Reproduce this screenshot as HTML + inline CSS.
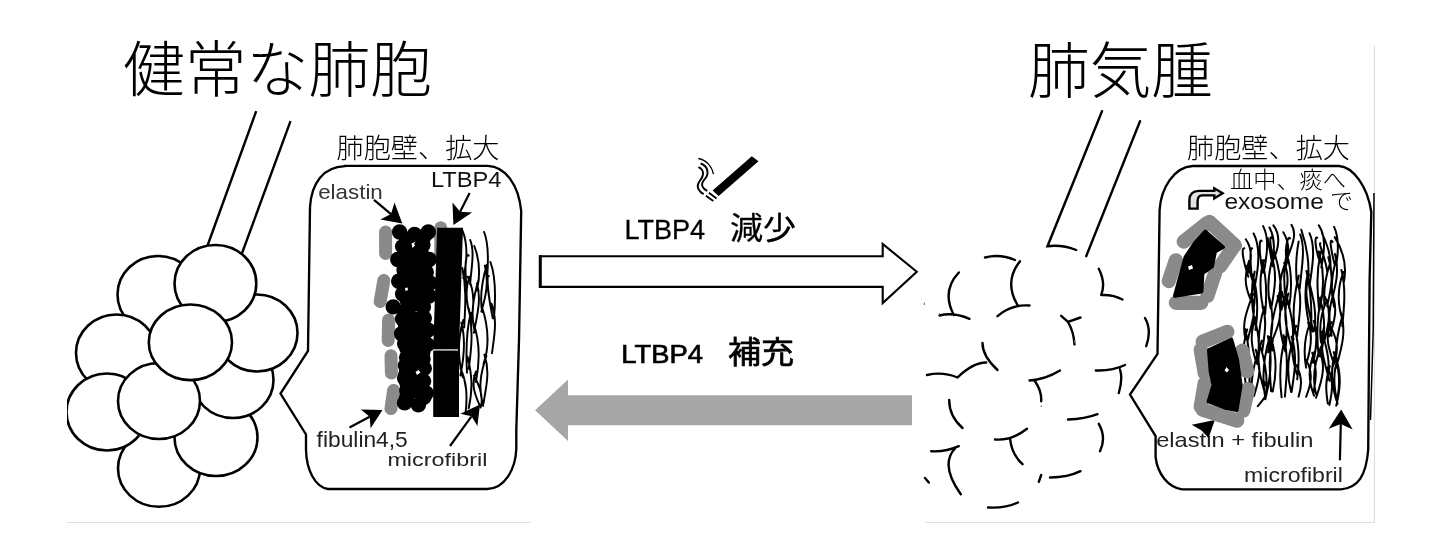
<!DOCTYPE html>
<html lang="ja"><head><meta charset="utf-8"><title>LTBP4</title>
<style>
html,body{margin:0;padding:0;background:#fff;}
body{width:1432px;height:557px;overflow:hidden;font-family:"Liberation Sans",sans-serif;}
svg{display:block;will-change:transform;font-family:"Liberation Sans",sans-serif;}
</style></head><body>
<svg width="1432" height="557" viewBox="0 0 1432 557">
<defs><clipPath id="clipL"><rect x="67" y="0" width="470" height="557"/></clipPath></defs>
<rect width="1432" height="557" fill="#fff"/>
<path d="M67,522.4H530.8M925,522.4H1375M1374.4,45V522.4" stroke="#dcdcdc" stroke-width="1" fill="none"/>
<text x="123" y="92" font-size="61.5" textLength="309" lengthAdjust="spacingAndGlyphs" fill="#000" font-weight="300" style="font-family:'Liberation Sans','Noto Sans CJK JP',sans-serif;">健常な肺胞</text>
<text x="1028" y="93" font-size="61.5" textLength="185" lengthAdjust="spacingAndGlyphs" fill="#000" font-weight="300" style="font-family:'Liberation Sans','Noto Sans CJK JP',sans-serif;">肺気腫</text>
<text x="336.5" y="158" font-size="27.3" textLength="163" lengthAdjust="spacingAndGlyphs" fill="#000" font-weight="300" style="font-family:'Liberation Sans','Noto Sans CJK JP',sans-serif;">肺胞壁、拡大</text>
<text x="1187" y="158" font-size="27.3" textLength="163" lengthAdjust="spacingAndGlyphs" fill="#000" font-weight="300" style="font-family:'Liberation Sans','Noto Sans CJK JP',sans-serif;">肺胞壁、拡大</text>
<g fill="none" stroke="#000" stroke-width="2.4" stroke-linecap="butt">
<path d="M256.2,111.2L207,247M290.5,121.2L241,256"/>
</g>
<g fill="#fff" stroke="#000" stroke-width="2.6" clip-path="url(#clipL)">
<ellipse cx="159" cy="468.5" rx="41" ry="38.3"/>
<ellipse cx="216" cy="437.5" rx="41.5" ry="38.5"/>
<ellipse cx="233" cy="380" rx="40.5" ry="38"/>
<ellipse cx="158" cy="294.5" rx="40.5" ry="38.5"/>
<ellipse cx="257" cy="333" rx="40.5" ry="38.5"/>
<ellipse cx="116.5" cy="353" rx="40.5" ry="38.5"/>
<ellipse cx="107" cy="412" rx="40.5" ry="38.5"/>
<ellipse cx="159" cy="401" rx="41" ry="38"/>
<ellipse cx="215.4" cy="283.5" rx="40.9" ry="38.5"/>
<ellipse cx="190.4" cy="342.3" rx="41.6" ry="37.8"/>
</g>
<path fill="none" stroke="#000" stroke-width="2.35" stroke-linejoin="miter" d="M345,165.9H488C505,166.8 518.5,184 521.2,211L519,340L516.3,430V449C515.5,469 505,488.5 487,489H328C315,487 306.5,470 306,450V434.5L280.5,393.5L308,351L310,207C311.5,183 323,167 345,166.2Z"/>
<g stroke="#8a8a8a" stroke-width="13" stroke-linecap="round" fill="none">
<path d="M440.8,227.8V260"/>
<path d="M385.6,232V253.5M383.8,280.5L380.2,301.5M388.6,320L388.2,340.5M391,355.8L391.4,373M393.6,390.4L391,408.6"/>
</g>
<path fill="#000" d="M437.2,227.8H463L459,349.3H433.2ZM433.2,350.6H459V417H433.2Z"/>
<path fill="none" stroke="#999" stroke-width="0.8" d="M433,349.9H447M451,349.9H457"/>
<g fill="#000">
<circle cx="399.6" cy="232.0" r="7.7"/>
<circle cx="414.5" cy="234.5" r="7.7"/>
<circle cx="428.3" cy="232.0" r="7.7"/>
<circle cx="402.6" cy="246.6" r="7.7"/>
<circle cx="421.4" cy="246.6" r="7.7"/>
<circle cx="397.7" cy="259.5" r="7.7"/>
<circle cx="413.5" cy="259.5" r="7.7"/>
<circle cx="429.3" cy="259.5" r="7.7"/>
<circle cx="411.5" cy="272.3" r="7.7"/>
<circle cx="426.3" cy="272.3" r="7.7"/>
<circle cx="398.7" cy="281.2" r="7.7"/>
<circle cx="419.4" cy="284.0" r="7.7"/>
<circle cx="402.6" cy="294.0" r="7.7"/>
<circle cx="416.4" cy="294.0" r="7.7"/>
<circle cx="429.0" cy="296.0" r="7.7"/>
<circle cx="393.2" cy="306.9" r="7.7"/>
<circle cx="409.5" cy="306.9" r="7.7"/>
<circle cx="423.4" cy="306.9" r="7.7"/>
<circle cx="402.6" cy="319.0" r="7.7"/>
<circle cx="419.4" cy="319.0" r="7.7"/>
<circle cx="401.6" cy="333.8" r="7.7"/>
<circle cx="416.4" cy="334.8" r="7.7"/>
<circle cx="427.3" cy="344.6" r="7.7"/>
<circle cx="412.5" cy="346.6" r="7.7"/>
<circle cx="406.6" cy="357.5" r="7.7"/>
<circle cx="420.4" cy="359.5" r="7.7"/>
<circle cx="424.3" cy="368.4" r="7.7"/>
<circle cx="408.5" cy="367.4" r="7.7"/>
<circle cx="404.6" cy="378.2" r="7.7"/>
<circle cx="420.4" cy="380.2" r="7.7"/>
<circle cx="409.5" cy="391.1" r="7.7"/>
<circle cx="426.3" cy="393.1" r="7.7"/>
<circle cx="404.6" cy="402.9" r="7.7"/>
<circle cx="418.4" cy="404.9" r="7.7"/>
<circle cx="428.0" cy="330.0" r="7.7"/>
<circle cx="404.0" cy="270.0" r="7.7"/>
<circle cx="430.0" cy="283.0" r="7.7"/>
<circle cx="406.7" cy="239.2" r="7.7"/>
<circle cx="424.3" cy="236.1" r="7.7"/>
<circle cx="407.3" cy="246.6" r="7.7"/>
<circle cx="422.9" cy="245.0" r="7.7"/>
<circle cx="406.2" cy="252.1" r="7.7"/>
<circle cx="413.8" cy="255.7" r="7.7"/>
<circle cx="422.0" cy="255.2" r="7.7"/>
<circle cx="406.4" cy="260.5" r="7.7"/>
<circle cx="415.6" cy="260.8" r="7.7"/>
<circle cx="424.4" cy="263.5" r="7.7"/>
<circle cx="407.4" cy="270.2" r="7.7"/>
<circle cx="413.6" cy="271.8" r="7.7"/>
<circle cx="424.4" cy="271.6" r="7.7"/>
<circle cx="405.6" cy="276.7" r="7.7"/>
<circle cx="413.2" cy="277.2" r="7.7"/>
<circle cx="421.5" cy="278.7" r="7.7"/>
<circle cx="405.4" cy="287.3" r="7.7"/>
<circle cx="413.9" cy="285.9" r="7.7"/>
<circle cx="421.7" cy="287.9" r="7.7"/>
<circle cx="406.7" cy="295.4" r="7.7"/>
<circle cx="415.4" cy="293.5" r="7.7"/>
<circle cx="421.5" cy="292.2" r="7.7"/>
<circle cx="407.4" cy="300.8" r="7.7"/>
<circle cx="415.8" cy="303.8" r="7.7"/>
<circle cx="422.6" cy="302.1" r="7.7"/>
<circle cx="404.8" cy="311.0" r="7.7"/>
<circle cx="407.3" cy="316.4" r="7.7"/>
<circle cx="414.8" cy="319.7" r="7.7"/>
<circle cx="424.3" cy="318.2" r="7.7"/>
<circle cx="405.5" cy="324.7" r="7.7"/>
<circle cx="413.4" cy="326.8" r="7.7"/>
<circle cx="404.6" cy="335.9" r="7.7"/>
<circle cx="414.2" cy="332.9" r="7.7"/>
<circle cx="424.0" cy="333.8" r="7.7"/>
<circle cx="404.7" cy="343.7" r="7.7"/>
<circle cx="414.5" cy="343.4" r="7.7"/>
<circle cx="423.7" cy="343.8" r="7.7"/>
<circle cx="406.9" cy="348.4" r="7.7"/>
<circle cx="413.4" cy="351.4" r="7.7"/>
<circle cx="422.9" cy="352.0" r="7.7"/>
<circle cx="423.0" cy="358.9" r="7.7"/>
<circle cx="405.4" cy="365.6" r="7.7"/>
<circle cx="414.1" cy="368.0" r="7.7"/>
<circle cx="406.0" cy="373.4" r="7.7"/>
<circle cx="413.8" cy="375.1" r="7.7"/>
<circle cx="406.9" cy="383.1" r="7.7"/>
<circle cx="415.0" cy="383.0" r="7.7"/>
<circle cx="423.6" cy="381.1" r="7.7"/>
<circle cx="406.8" cy="390.8" r="7.7"/>
<circle cx="415.8" cy="390.6" r="7.7"/>
<circle cx="421.5" cy="390.2" r="7.7"/>
<circle cx="406.5" cy="397.9" r="7.7"/>
<circle cx="423.9" cy="397.4" r="7.7"/>
</g>
<path fill="#fff" d="M411.5,243.5l2,-1l1.5,3l-2.5,2.5zM405,288l2.5,-0.5l0.5,2.5l-2.5,1zM415.5,372l3,-2l2,2.5l-3.5,2.5z"/>
<text x="318.2" y="199.4" font-size="20.4" textLength="64.6" lengthAdjust="spacingAndGlyphs" fill="#333" font-weight="normal">elastin</text>
<text x="430.9" y="187.4" font-size="22" textLength="70.6" lengthAdjust="spacingAndGlyphs" fill="#111" font-weight="normal">LTBP4</text>
<text x="316.6" y="447" font-size="22.2" textLength="91.2" lengthAdjust="spacingAndGlyphs" fill="#222" font-weight="normal">fibulin4,5</text>
<text x="387.4" y="466.2" font-size="19.2" textLength="100" lengthAdjust="spacingAndGlyphs" fill="#222" font-weight="normal">microfibril</text>
<path fill="none" stroke="#000" stroke-width="1.95" stroke-linecap="round" d="M462.2,230.0C468.0,243.5 467.1,261.4 463.3,278.2M462.3,268.0C467.0,289.9 465.0,310.0 464.2,327.4M461.3,322.7C465.9,339.2 464.0,358.0 460.4,375.5M463.3,319.9C457.5,339.2 457.6,358.0 462.8,377.2M460.4,368.2C466.6,382.0 467.7,395.0 465.5,413.8M470.2,240.0C474.9,251.8 471.4,267.5 470.1,284.1M468.7,255.6C465.8,251.8 464.3,267.5 466.7,287.2M467.7,276.7C474.7,290.3 474.8,305.0 470.9,322.5M469.7,276.6C464.2,290.3 466.3,305.0 471.7,320.4M468.8,308.5C473.6,330.9 471.2,350.7 468.7,368.8M470.8,312.7C466.2,330.9 465.8,350.7 467.0,372.6M467.5,356.7C472.5,376.1 472.6,390.1 468.7,408.3M474.3,246.0C479.0,258.3 480.6,274.7 476.9,290.6M476.9,283.4C481.6,298.9 477.2,314.8 473.9,332.8M478.9,278.4C472.9,298.9 470.5,314.8 474.7,332.0M473.4,322.9C480.2,342.2 479.7,363.0 475.9,381.9M473.9,375.8C479.9,386.1 483.3,396.2 481.1,406.0M475.9,371.6C470.4,386.1 475.7,396.2 480.6,407.5M484.1,232.0C488.8,243.6 488.5,259.1 487.2,276.7M484.8,265.6C489.4,282.3 485.3,297.7 481.4,311.6M486.8,264.7C481.6,282.3 479.6,297.7 482.2,312.1M481.7,306.2C488.0,324.9 489.7,345.9 483.5,363.9M484.4,354.6C490.5,372.8 485.7,387.6 483.6,403.0M486.4,355.9C480.7,372.8 477.9,387.6 483.2,405.9M490.4,262.0C495.8,276.5 495.9,295.7 494.0,318.5M488.9,275.9C486.2,276.5 488.3,295.7 492.8,318.2M491.5,303.7C497.5,320.4 494.5,334.1 492.0,353.2"/>
<path fill="none" stroke="#000" stroke-width="2.2" d="M374.0,199.8L391.0,214.1"/>
<path fill="#000" d="M402.3,223.6L380.3,219.5L391.0,214.1L394.5,202.6Z"/>
<path fill="none" stroke="#000" stroke-width="2.2" d="M469.6,193.1L460.1,211.7"/>
<path fill="#000" d="M453.4,224.9L452.5,202.5L460.1,211.7L472.1,212.5Z"/>
<path fill="none" stroke="#000" stroke-width="2.2" d="M349.5,427.5L369.7,416.8"/>
<path fill="#000" d="M382.5,410.0L370.6,428.2L369.7,416.8L360.8,409.6Z"/>
<path fill="none" stroke="#000" stroke-width="2.2" d="M450.0,446.0L471.5,416.3"/>
<path fill="#000" d="M480.0,404.5L477.4,426.0L471.5,416.3L460.4,413.7Z"/>
<path fill="#fff" stroke="#000" stroke-width="2.1" d="M540,256.2H882.7V244L916.8,271.7L882.7,303V286.9H540Z"/>
<path stroke="#000" stroke-width="3" d="M540.3,255.2V288"/>
<path fill="#a6a6a6" d="M535.1,410.2L568,379.4V395.2H912V425.3H568V441.1Z"/>
<path fill="#000" d="M712.6,190.4L751.8,156.3L758.5,161.2L718.7,196Z"/>
<path fill="none" stroke="#000" stroke-width="1.9" d="M708.9,192.8L716.5,198.4M705.9,195.7L713.3,201.1"/>
<path fill="none" stroke="#000" stroke-width="1.3" d="M698.4,158.5C706,160 712,166 713.4,174.2"/>
<path fill="none" stroke="#000" stroke-width="1.9" d="M700.6,163.5C708,166 710,174 704,180C700,185 703,189 707.3,190.8M698.4,167.1C705,170 704,176 699,182C696,187 699,192 703.7,194.1"/>
<g fill="none" stroke="#000" stroke-width="2.4" stroke-linecap="round">
<path d="M1102,111.2L1047.5,246.2Q1062.5,244.5 1076.2,250M1140,121.2L1086.2,256.2"/>
<path d="M985,257.5Q1000.0,253.6 1015,260M1020,261.2Q1003.7,281.9 1017.5,305M997.5,316.2Q1011.5,304.1 1029.5,305.5M958.8,272.5Q941.3,291.2 953.8,315M939.5,315.5Q953.1,311.9 969.5,318.8M1098.8,268.8Q1106.0,283.1 1101.2,295M1101.2,295Q1113.2,294.4 1122.5,299.5M1068,322Q1073.8,331.8 1074.5,344.5M1145,318Q1152.0,330.3 1146.2,346.2M982.5,343Q982.4,355.9 997.5,370M986.2,362.5Q973.1,362.4 957.5,377.5M927,375Q942.8,371.4 957.5,377.5M1029.5,380.5Q1045.2,379.5 1060,370.5M1035,381.2Q1041.9,391.2 1041.2,401.2M1095.8,370.5Q1112.0,371.2 1125,365M1120,369.5Q1123.0,378.8 1118.8,393M949.2,400Q949.1,416.0 962.5,428M1068,419.5Q1084.8,419.1 1097.5,414.2M1098.8,423.8Q1106.6,437.5 1100,451.2M995,439.5Q1011.4,440.9 1027,428.8M1010,438Q1011.3,453.9 1022.5,464.2M931.2,451.2Q945.0,452.3 958.8,446.2M955,448.5Q939.7,464.6 960.8,494.2M1050,477.5Q1067.2,477.6 1080.5,471.2M988,507.5Q1004.6,508.6 1018,502.5M1061.2,315.8L1068,322L1080.5,317.5M1041.2,475L1038.8,481.8M925,478L928.8,482.5"/>
<path stroke="#555" stroke-width="1" stroke-linecap="butt" d="M1041.3,405.3v1.6M924.3,302.6v2.4M939.6,313v2.2M1074.5,340v3.5"/>
</g>
<path fill="none" stroke="#000" stroke-width="2.35" d="M1192.7,166H1339C1353,167 1367.5,186 1371.3,212L1369.6,280L1368.2,450C1366,476 1358,488 1341,489.3H1182C1168,487 1157.5,474 1155.6,457V436.2L1130,394.5L1157.5,353.8L1159.6,210C1161,188 1174,167 1192.7,166Z"/>
<path fill="none" stroke="#000" stroke-width="1.5" d="M1374,193L1373.2,330L1370.5,420"/>
<text x="1230" y="187.6" font-size="23.2" textLength="116" lengthAdjust="spacingAndGlyphs" fill="#000" font-weight="300" style="font-family:'Liberation Sans','Noto Sans CJK JP',sans-serif;">血中、痰へ</text>
<text x="1330" y="208.6" font-size="23" fill="#000" font-weight="300" style="font-family:'Liberation Sans','Noto Sans CJK JP',sans-serif;">で</text>
<text x="1224.4" y="208.6" font-size="22" textLength="99.4" lengthAdjust="spacingAndGlyphs" fill="#111" font-weight="normal">exosome</text>
<text x="1156.2" y="447" font-size="20.6" textLength="157.2" lengthAdjust="spacingAndGlyphs" fill="#222" font-weight="normal">elastin + fibulin</text>
<text x="1244.1" y="481.7" font-size="20" textLength="98.8" lengthAdjust="spacingAndGlyphs" fill="#222" font-weight="normal">microfibril</text>
<path fill="#e2e2e2" stroke="#000" stroke-width="2.4" stroke-linejoin="miter" d="M1189.4,208.6V200C1189.6,194 1193,191 1199,190.9H1214.3V188.3L1222.6,193.2L1214.3,198.4V195.4H1202C1199,195.6 1197.7,197.5 1197.6,201V208.6Z"/>
<path fill="none" stroke="#000" stroke-width="2.0" stroke-linecap="round" d="M1245.8,239.2C1252.1,248.2 1252.3,260.3 1247.5,273.7M1244.3,248.2C1240.9,248.2 1243.1,260.3 1248.3,276.8M1247.1,265.7C1253.7,279.5 1256.6,292.9 1253.6,308.9M1249.1,260.7C1242.1,279.5 1246.9,292.9 1253.8,306.2M1250.9,294.2C1257.9,311.8 1251.1,323.5 1247.9,339.9M1252.9,294.1C1246.4,311.8 1241.6,323.5 1245.5,339.5M1245.2,328.9C1249.9,347.1 1250.2,366.9 1249.2,390.2M1247.2,329.5C1241.3,347.1 1243.5,366.9 1246.1,387.4M1253.6,233.5C1260.8,247.2 1258.9,265.6 1255.2,283.8M1252.1,248.4C1249.7,247.2 1249.8,265.6 1253.3,286.2M1252.7,274.5C1257.9,292.3 1258.5,309.6 1255.5,330.0M1254.7,271.6C1249.3,292.3 1251.9,309.6 1255.8,325.4M1254.3,320.1C1259.6,333.2 1260.0,347.3 1257.0,363.9M1256.3,316.7C1249.0,333.2 1251.4,347.3 1256.6,363.2M1255.8,349.8C1262.7,368.3 1258.2,382.2 1254.0,396.0M1257.8,352.8C1252.9,368.3 1250.4,382.2 1251.6,397.5M1263.1,226.1C1269.3,237.7 1267.1,253.1 1264.5,268.7M1261.6,240.9C1259.0,237.7 1258.8,253.1 1262.9,272.7M1261.9,260.2C1267.3,278.2 1266.8,296.2 1265.2,313.9M1263.9,259.9C1258.4,278.2 1259.9,296.2 1264.7,314.7M1262.4,306.2C1267.7,321.3 1264.1,336.7 1262.1,352.1M1264.4,307.0C1259.6,321.3 1258.0,336.7 1259.2,353.5M1259.7,344.5C1265.0,360.4 1268.6,376.6 1265.8,397.6M1261.7,340.6C1254.7,360.4 1260.3,376.6 1264.8,392.6M1264.3,381.9C1271.0,392.7 1264.2,398.1 1257.8,406.2M1269.5,227.5C1274.6,237.1 1275.5,249.7 1271.0,265.5M1268.0,238.2C1267.0,237.1 1269.9,249.7 1272.7,266.2M1271.5,256.3C1277.7,272.8 1274.4,290.7 1271.5,306.9M1273.5,254.3C1268.0,272.8 1266.6,290.7 1270.6,308.4M1269.1,297.0C1274.7,316.1 1272.4,332.0 1268.1,352.4M1267.8,336.1C1273.5,358.8 1270.2,378.7 1266.1,395.8M1269.8,336.7C1263.0,358.8 1261.7,378.7 1265.4,399.3M1273.4,225.4C1280.3,234.2 1279.5,245.9 1273.5,259.6M1271.9,238.1C1269.1,234.2 1270.3,245.9 1273.2,259.8M1273.5,249.7C1279.6,268.5 1282.7,286.9 1280.3,307.0M1277.6,296.1C1284.6,313.5 1276.8,330.5 1269.9,345.7M1279.6,291.9C1274.0,313.5 1268.1,330.5 1272.6,350.5M1270.8,337.2C1277.1,356.1 1276.9,373.2 1272.7,391.6M1272.8,340.8C1268.1,356.1 1269.9,373.2 1271.1,391.3M1283.3,232.2C1289.7,242.6 1289.5,256.6 1284.6,270.4M1284.2,262.9C1290.3,277.2 1287.4,290.7 1281.3,309.7M1286.2,261.0C1279.3,277.2 1278.3,290.7 1281.8,309.2M1282.2,292.1C1287.0,313.9 1287.4,331.1 1285.8,346.9M1284.2,298.4C1276.9,313.9 1279.3,331.1 1285.4,351.7M1283.5,335.1C1288.8,357.9 1286.7,376.3 1284.9,396.6M1285.5,336.9C1279.3,357.9 1279.1,376.3 1281.6,397.2M1291.5,224.9C1298.0,234.5 1291.2,247.2 1284.7,265.6M1290.0,238.5C1288.6,234.5 1283.8,247.2 1287.0,262.8M1285.7,250.7C1292.6,270.5 1292.2,288.7 1289.0,307.9M1287.7,248.8C1282.2,270.5 1283.8,288.7 1286.6,304.9M1286.3,294.8C1291.5,315.2 1295.7,332.3 1291.2,348.1M1288.3,293.5C1281.4,315.2 1287.7,332.3 1292.3,351.4M1291.6,336.6C1297.7,356.8 1294.4,372.5 1291.6,391.9M1293.6,338.9C1287.3,356.8 1286.0,372.5 1291.1,392.0M1300.2,234.5C1305.8,249.0 1301.4,268.2 1299.8,288.2M1298.7,241.5C1297.1,249.0 1294.7,268.2 1297.3,286.4M1296.8,280.4C1303.0,296.9 1299.3,315.9 1297.1,336.3M1298.8,275.5C1293.6,296.9 1291.9,315.9 1295.4,333.2M1294.2,326.3C1298.8,342.7 1300.0,359.5 1297.2,379.3M1296.2,325.8C1288.9,342.7 1292.1,359.5 1297.1,374.8M1296.4,365.0C1302.9,378.5 1301.5,387.0 1298.6,396.6M1301.3,229.8C1306.1,243.9 1310.2,262.6 1307.9,284.1M1306.4,271.0C1311.3,291.3 1312.1,310.9 1311.0,331.2M1308.4,270.3C1303.0,291.3 1305.7,310.9 1310.9,331.9M1308.1,322.4C1313.8,336.6 1310.4,351.3 1306.0,364.4M1310.1,323.0C1304.6,336.6 1303.2,351.3 1306.1,367.7M1305.7,359.5C1312.7,370.8 1312.2,382.0 1306.1,396.8M1309.5,233.2C1315.9,247.4 1312.4,266.4 1309.7,284.4M1307.0,273.4C1312.0,293.6 1317.7,310.8 1314.1,330.9M1309.0,274.5C1302.3,293.6 1310.1,310.8 1313.0,331.7M1313.8,321.0C1318.6,334.6 1316.2,349.1 1313.1,362.8M1312.3,352.8C1317.8,368.5 1315.9,379.9 1313.3,393.6M1314.3,352.1C1308.1,368.5 1308.2,379.9 1314.0,395.7M1318.8,225.4C1325.7,235.6 1324.9,249.3 1321.3,267.5M1317.3,237.8C1314.1,235.6 1315.3,249.3 1319.9,261.9M1319.0,251.4C1324.8,272.8 1324.4,290.4 1319.4,310.2M1321.0,251.4C1315.8,272.8 1317.4,290.4 1319.0,309.6M1319.6,297.9C1326.5,318.5 1324.8,338.4 1320.4,356.6M1321.6,296.0C1316.3,318.5 1316.6,338.4 1318.7,356.2M1318.9,350.1C1326.3,364.3 1322.6,378.9 1316.1,397.7M1320.9,346.9C1313.8,364.3 1312.1,378.9 1316.0,393.9M1322.0,233.4C1326.6,243.0 1331.9,255.8 1330.2,268.8M1320.5,243.2C1317.9,243.0 1325.2,255.8 1327.4,272.5M1328.3,257.3C1334.7,276.5 1330.4,291.3 1327.1,306.3M1330.3,262.7C1325.5,276.5 1323.3,291.3 1324.4,305.7M1325.0,296.9C1332.1,312.4 1328.1,325.8 1324.3,341.4M1327.0,300.1C1320.9,312.4 1318.9,325.8 1321.0,342.5M1322.0,331.6C1326.5,347.6 1331.3,363.2 1326.9,381.0M1324.0,327.1C1318.3,347.6 1325.1,363.2 1329.5,380.8M1327.8,367.4C1333.8,381.6 1332.5,390.5 1329.4,405.0M1329.8,366.1C1325.0,381.6 1325.8,390.5 1327.8,403.5M1334.1,226.9C1338.8,236.8 1338.7,250.0 1336.3,264.6M1332.6,241.9C1329.0,236.8 1330.9,250.0 1334.4,263.4M1335.0,253.9C1339.8,271.6 1335.2,287.3 1331.4,301.5M1337.0,257.2C1332.2,271.6 1329.6,287.3 1334.0,306.7M1331.4,291.9C1338.0,307.7 1335.2,319.2 1329.5,336.3M1333.4,294.7C1328.7,307.7 1327.8,319.2 1331.6,335.8M1329.5,324.7C1336.8,337.3 1340.1,349.8 1332.8,366.4M1331.5,322.1C1324.0,337.3 1329.3,349.8 1333.6,362.9M1333.7,352.2C1340.0,370.0 1340.3,384.4 1337.3,398.5M1335.7,351.6C1329.6,370.0 1331.9,384.4 1336.3,400.3M1334.7,237.1C1341.9,248.5 1347.6,263.7 1343.8,282.4M1341.4,269.9C1345.9,288.0 1344.4,305.2 1342.3,326.3M1343.4,272.0C1337.2,288.0 1337.6,305.2 1342.8,320.4M1340.8,312.4C1347.0,331.7 1341.0,349.8 1336.1,367.7M1342.8,314.4C1337.7,331.7 1333.8,349.8 1337.1,367.7M1335.9,357.9C1341.2,373.7 1340.8,387.6 1336.2,405.7M1337.9,358.3C1332.4,373.7 1334.1,387.6 1337.5,404.0"/>
<path fill="none" stroke="#000" stroke-width="2.2" d="M1339.9,460.3L1340.8,424.1"/>
<path fill="#000" d="M1341.2,409.6L1352.7,429.4L1340.8,424.1L1328.7,428.8Z"/>
<path fill="#000" d="M1214.8,420.1L1191.7,424.8L1201.6,430.6L1208.6,438Z"/>
<g fill="none" stroke="#8a8a8a" stroke-width="14.2" stroke-linecap="round" stroke-linejoin="round">
<path d="M1183.7,241.6L1207.4,222.8M1209.3,221.8L1235,245.5M1233,247.5L1220.2,266.3M1215.3,272.2L1207.4,295.9M1175.8,260.3L1168.8,281.1M1175.8,302.8H1201.4"/>
<path d="M1202.7,341.7L1227.4,331.8M1200.7,349.6L1204.7,373.3M1242.2,350.6L1247.1,371.3M1204.7,383.2L1200.7,406.8M1248.1,389.1L1243.2,410.8M1202.7,409.8L1237.2,420.6"/>
</g>
<path fill="#000" stroke="#000" stroke-width="4" stroke-linejoin="round" d="M1205.4,231.7L1223,247L1215,251.4L1212,266.3L1202.4,273.2L1201.4,291.5L1175,295.9L1185.6,257L1195,243ZM1209,350L1231.3,339.7L1237,359.5L1240.6,385.1L1236.6,410L1224.4,407.5L1208.6,401.5L1213.5,385.1L1210.6,371.3Z"/>
<path fill="#fff" d="M1188,266.5l4,-1.5l1,3.5l-4,1.5zM1226.5,367l2.5,3l-2,2.5l-2.5,-2z"/>
<text x="730" y="239" font-size="31" textLength="66" lengthAdjust="spacingAndGlyphs" fill="#000" stroke="#000" stroke-width="0.3" style="font-family:'Liberation Sans','Noto Sans CJK JP',sans-serif;">減少</text>
<text x="728" y="363" font-size="31" textLength="66" lengthAdjust="spacingAndGlyphs" fill="#000" stroke="#000" stroke-width="0.7" style="font-family:'Liberation Sans','Noto Sans CJK JP',sans-serif;">補充</text>
<text x="624.4" y="239.2" font-size="27.6" textLength="80.8" lengthAdjust="spacingAndGlyphs" fill="#000" stroke="#000" stroke-width="0.3">LTBP4</text>
<text x="621.3" y="363" font-size="26.7" textLength="81.6" lengthAdjust="spacingAndGlyphs" fill="#000" stroke="#000" stroke-width="0.7">LTBP4</text>
</svg>
</body></html>
